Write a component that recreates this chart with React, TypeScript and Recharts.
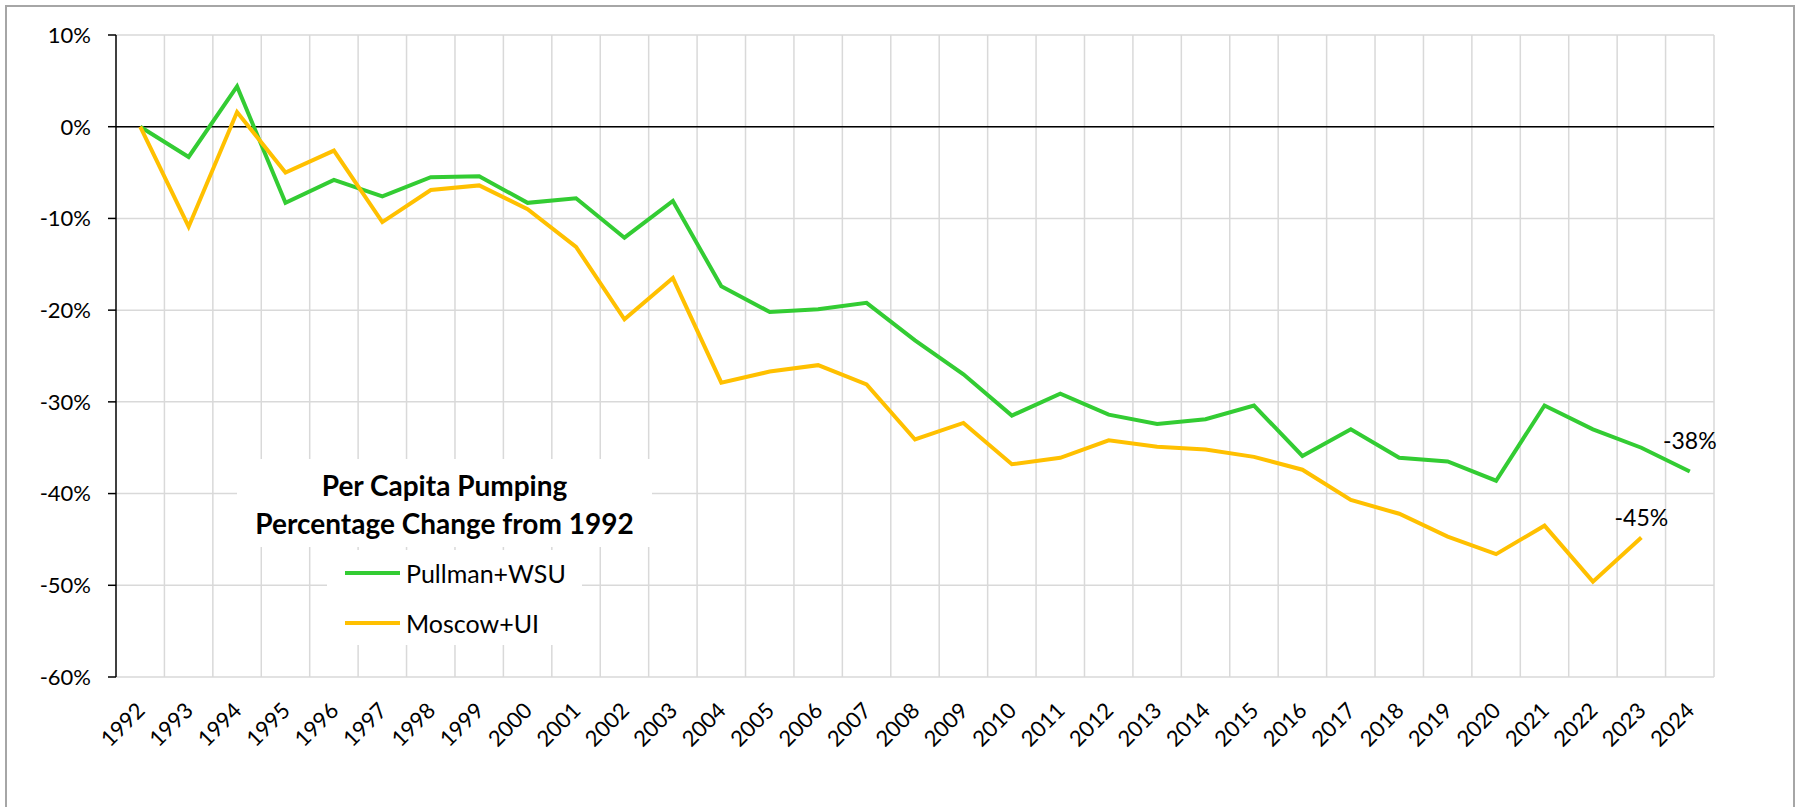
import React from 'react';
import { LineChart, Line, XAxis, YAxis, CartesianGrid, ReferenceLine, LabelList } from 'recharts';

const years = ['1992','1993','1994','1995','1996','1997','1998','1999','2000','2001','2002','2003','2004','2005','2006','2007','2008','2009','2010','2011','2012','2013','2014','2015','2016','2017','2018','2019','2020','2021','2022','2023','2024'];
const pullman = [0,-3.3,4.4,-8.3,-5.8,-7.6,-5.5,-5.4,-8.3,-7.8,-12.1,-8.1,-17.4,-20.2,-19.9,-19.2,-23.3,-27.0,-31.5,-29.1,-31.4,-32.4,-31.9,-30.4,-35.9,-33.0,-36.1,-36.5,-38.6,-30.4,-33.0,-35.0,-37.6];
const moscow = [0,-10.9,1.6,-5.0,-2.6,-10.4,-6.9,-6.4,-9.0,-13.1,-21.0,-16.5,-27.9,-26.7,-26.0,-28.1,-34.1,-32.3,-36.8,-36.1,-34.2,-34.9,-35.2,-36.0,-37.4,-40.7,-42.2,-44.7,-46.6,-43.5,-49.6,-44.8,null];
const yTicks = [-60,-50,-40,-30,-20,-10,0,10];
const seriesNames = ['Pullman+WSU','Moscow+UI'];
const seriesColors = ['#33CC33','#FFC000'];
const titleLines = ['Per Capita Pumping','Percentage Change from 1992'];

const data = years.map((y, i) => ({ year: y, pullman: pullman[i], moscow: moscow[i] }));

const FONT = 'Lato, "Noto Sans", sans-serif';

const lastIndex = (arr: (number | null)[]) => {
  let k = -1;
  arr.forEach((v, i) => { if (v !== null && v !== undefined) k = i; });
  return k;
};

const makeEndLabel = (arr: (number | null)[], dy: number) => (props: any) => {
  const { x, y, index, value } = props;
  if (index !== lastIndex(arr)) return null;
  return (
    <text x={x} y={y - dy} textAnchor="middle" dominantBaseline="central" fill="#000" fontSize={23} fontFamily={FONT}>
      {`${Math.round(value)}%`}
    </text>
  );
};

const XTick = (props: any) => {
  const { x, y, payload } = props;
  const px = x + 6;
  const py = y + 35;
  return (
    <text x={px} y={py} transform={`rotate(-45, ${px}, ${py})`} textAnchor="end" fill="#000" fontSize={22} fontFamily={FONT}>
      {payload.value}
    </text>
  );
};

export default function App() {
  return (
    <div style={{ position: 'absolute', left: 0, top: 0, width: 1801, height: 807, overflow: 'hidden', background: '#fff' }}>
      <div style={{ position: 'absolute', left: 5, top: 5, width: 1786, height: 900, border: '2px solid #a6a6a6' }} />
      <div style={{ position: 'absolute', left: 0, top: 0 }}>
        <LineChart width={1801} height={807} data={data} margin={{ top: 35, right: 87, left: 0, bottom: 0 }}>
          <CartesianGrid
            stroke="#d9d9d9"
            strokeWidth={1.5}
            verticalCoordinatesGenerator={({ offset }: any) =>
              years.map((_, i) => offset.left + ((i + 1) * offset.width) / years.length)
            }
          />
          <XAxis dataKey="year" scale="band" interval={0} tick={<XTick />} tickLine={false} axisLine={false} height={130} tickSize={0} tickMargin={0} />
          <YAxis
            type="number"
            domain={[-60, 10]}
            ticks={yTicks}
            tickFormatter={(v: number) => `${v}%`}
            width={116}
            axisLine={{ stroke: '#000', strokeWidth: 1.5 }}
            tickLine={{ stroke: '#000', strokeWidth: 1.5 }}
            tickSize={8}
            tickMargin={17}
            tick={{ fill: '#000', fontSize: 22, fontFamily: FONT }}
          />
          <ReferenceLine y={0} stroke="#000" strokeWidth={1.5} />
          <Line type="linear" dataKey="pullman" name={seriesNames[0]} stroke={seriesColors[0]} strokeWidth={4} dot={false} isAnimationActive={false}>
            <LabelList dataKey="pullman" content={makeEndLabel(pullman, 32)} />
          </Line>
          <Line type="linear" dataKey="moscow" name={seriesNames[1]} stroke={seriesColors[1]} strokeWidth={4} dot={false} isAnimationActive={false}>
            <LabelList dataKey="moscow" content={makeEndLabel(moscow, 21)} />
          </Line>
        </LineChart>
      </div>
      <div style={{ position: 'absolute', left: 237, top: 459, width: 415, height: 88, background: '#fff', fontFamily: FONT, fontWeight: 700, fontSize: 28, color: '#000', textAlign: 'center', lineHeight: '38px', paddingTop: 7, boxSizing: 'border-box' }}>
        {titleLines.map((t) => <div key={t} style={{ whiteSpace: 'nowrap' }}>{t}</div>)}
      </div>
      <div style={{ position: 'absolute', left: 327, top: 550, width: 255, height: 95, background: '#fff', fontFamily: FONT, fontSize: 25, color: '#000' }}>
        {seriesNames.map((n, i) => (
          <div key={n} style={{ position: 'absolute', left: 18, top: 7 + i * 50, height: 32, display: 'flex', alignItems: 'center', whiteSpace: 'nowrap' }}>
            <span style={{ display: 'inline-block', width: 55, height: 4, background: seriesColors[i], marginRight: 6 }} />
            <span>{n}</span>
          </div>
        ))}
      </div>
    </div>
  );
}
